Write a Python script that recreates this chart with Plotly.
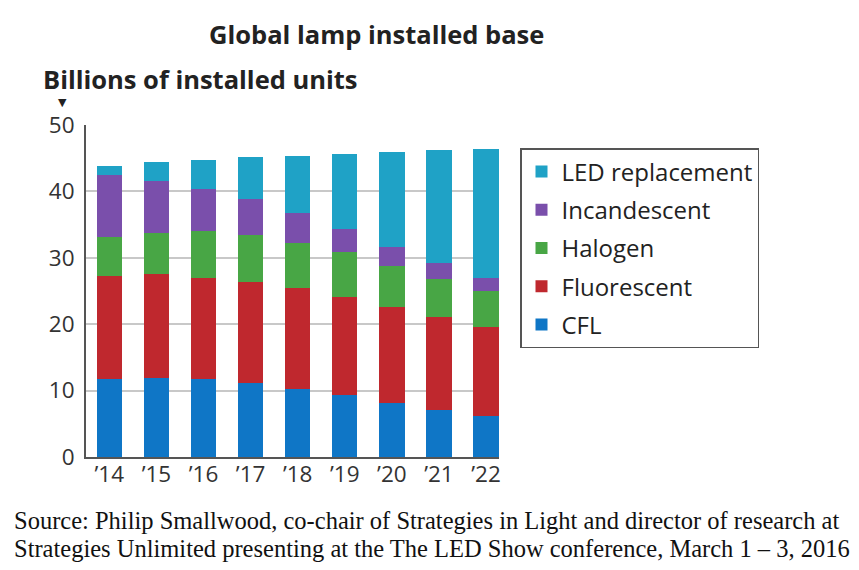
import plotly.graph_objects as go

years = ["’14", "’15", "’16", "’17", "’18", "’19", "’20", "’21", "’22"]
cfl = [11.7, 11.9, 11.7, 11.1, 10.3, 9.3, 8.2, 7.1, 6.2]
fluorescent = [15.6, 15.6, 15.2, 15.2, 15.1, 14.8, 14.4, 14.0, 13.4]
halogen = [5.9, 6.2, 7.1, 7.1, 6.9, 6.7, 6.2, 5.7, 5.4]
incandescent = [9.2, 7.9, 6.3, 5.4, 4.5, 3.5, 2.9, 2.4, 1.9]
led = [1.5, 2.8, 4.4, 6.4, 8.6, 11.4, 14.2, 17.0, 19.5]
y_ticks = [0, 10, 20, 30, 40, 50]

series = [
    ("CFL", cfl, "#0f76c6", 5),
    ("Fluorescent", fluorescent, "#bf282e", 4),
    ("Halogen", halogen, "#48a645", 3),
    ("Incandescent", incandescent, "#7a4fab", 2),
    ("LED replacement", led, "#1fa2c6", 1),
]

W, H = 859, 570
OFF = 8  # page body margin offset
L, R, T, B = 86 - OFF, 499 - OFF, 125 - OFF, 457 - OFF


def px(xp):
    return (xp - OFF - L) / (R - L)


def py(yp):
    return (B - (yp - OFF)) / (B - T)


fig = go.Figure()
for name, vals, col, rank in series:
    fig.add_trace(go.Bar(
        x=list(range(len(years))), y=vals, name=name, legendgroup=name,
        legendrank=rank,
        marker=dict(color=col, line=dict(width=0)),
    ))

fig.update_layout(
    width=W, height=H,
    barmode="stack", bargap=0.46,
    plot_bgcolor="white", paper_bgcolor="white",
    margin=dict(l=L, r=W - R, t=T, b=H - B, pad=0, autoexpand=False),
    font=dict(family="Open Sans", color="#333333"),
    showlegend=True,
    legend=dict(
        x=px(520), y=py(148),
        xanchor="left", yanchor="top",
        traceorder="grouped", tracegroupgap=4,
        bordercolor="#555555", borderwidth=1.5,
        font=dict(size=24, color="#222222", family="Open Sans"),
        bgcolor="white",
    ),
)

fig.update_xaxes(
    range=[-0.495, 8.275],
    tickmode="array", tickvals=list(range(len(years))), ticktext=years,
    tickfont=dict(size=22.5, color="#333333"),
    showgrid=False, showline=True, linecolor="#555555", linewidth=2,
    ticks="", zeroline=False, ticklabelstandoff=-4,
)
fig.update_yaxes(
    range=[0, 50], tickvals=y_ticks,
    tickfont=dict(size=22.5, color="#333333"),
    showgrid=True, gridcolor="#c8c8c8", gridwidth=1.5,
    showline=True, linecolor="#555555", linewidth=2,
    ticks="", ticklabelstandoff=5, zeroline=False,
)

fig.add_annotation(
    text="<b>Global lamp installed base</b>", xref="paper", yref="paper",
    x=px(376), y=py(34), xanchor="center", yanchor="middle",
    showarrow=False, font=dict(size=25.5, color="#222222", family="Open Sans"),
)
fig.add_annotation(
    text="<b>Billions of installed units</b>", xref="paper", yref="paper",
    x=px(41), y=py(79), xanchor="left", yanchor="middle",
    showarrow=False, font=dict(size=25.5, color="#222222", family="Open Sans"),
)
fig.add_annotation(
    text="▼", xref="paper", yref="paper",
    x=px(62), y=py(102), xanchor="center", yanchor="middle",
    showarrow=False, font=dict(size=11, color="#222222", family="DejaVu Sans"),
)
fig.add_annotation(
    text="Source: Philip Smallwood, co-chair of Strategies in Light and director of research at",
    xref="paper", yref="paper",
    x=px(12), y=py(520), xanchor="left", yanchor="middle",
    align="left", showarrow=False,
    font=dict(size=24.5, color="#111111", family="Liberation Serif"),
)
fig.add_annotation(
    text="Strategies Unlimited presenting at the The LED Show conference, March 1 – 3, 2016",
    xref="paper", yref="paper",
    x=px(12), y=py(548), xanchor="left", yanchor="middle",
    align="left", showarrow=False,
    font=dict(size=24.5, color="#111111", family="Liberation Serif"),
)

fig.write_html("out.html")
